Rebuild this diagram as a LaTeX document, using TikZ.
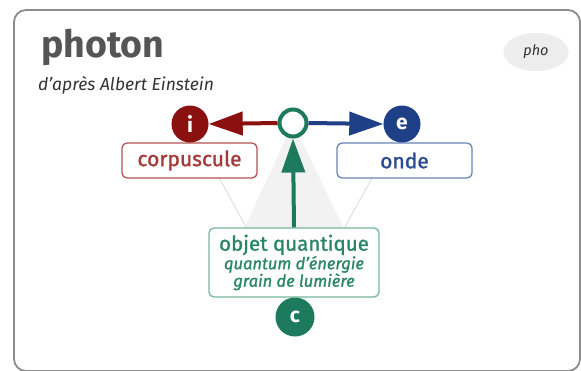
\documentclass[tikz,border=0pt]{standalone}
\usepackage{fontspec}
\setmainfont{Fira Sans}
\newfontfamily\medfont[FakeBold=1.2]{Fira Sans}
\usetikzlibrary{arrows.meta,shapes.geometric}
\definecolor{redD}{HTML}{8B1010}
\definecolor{redL}{HTML}{B65252}
\definecolor{redT}{HTML}{A33A3A}
\definecolor{bluD}{HTML}{1F3F86}
\definecolor{bluL}{HTML}{6A84BC}
\definecolor{bluT}{HTML}{2B4A8F}
\definecolor{grnD}{HTML}{1E7A5C}
\definecolor{grnL}{HTML}{74B89A}
\definecolor{grnT}{HTML}{2A8764}
\definecolor{titleG}{HTML}{555555}
\tikzset{
  pole/.style={circle, fill=#1, inner sep=0pt, minimum size=37pt, text=white, font=\fontsize{21}{21}\selectfont\bfseries},
  labbox/.style={draw=#1, line width=1.3pt, rounded corners=5pt, fill=white, minimum width=135pt, minimum height=35pt, inner sep=0pt},
  bigarrow/.style={draw=#1, line width=4pt, -{Triangle[length=34pt,width=23pt]}},
  bgline/.style={draw=black!12, line width=1pt},
}
\begin{document}
\begin{tikzpicture}[x=1pt,y=-1pt]
\useasboundingbox (0,0) rectangle (581,370);
% card
\draw[black!45, line width=1.8pt, rounded corners=12pt, fill=white] (14,10) rectangle (580,371);
% title
\node[anchor=base west, inner sep=0pt, text=titleG, font=\fontsize{37.5}{37.5}\selectfont\bfseries] (title) at (41,57) {photon};
\node[anchor=base west, inner sep=0pt, text=black!80, font=\fontsize{17.5}{17.5}\selectfont\itshape] (sub) at (38,90) {d’après Albert Einstein};
\node[ellipse, fill=black!7, minimum width=65pt, minimum height=38pt, inner sep=0pt, font=\fontsize{14.5}{14.5}\selectfont\itshape, text=black!80] (tag) at (536,52) {pho};
% poles
\coordinate (ctr) at (293,123);
\coordinate (cpos) at (295,317);
\coordinate (ipos) at (190,124);
\coordinate (epos) at (402,124);
% background
\fill[black!5] (ctr) -- (244,229) -- (344,229) -- cycle;
\draw[bgline] (ipos) -- (cpos);
\draw[bgline] (epos) -- (cpos);
% boxes
\node[labbox=redL, text=redT, font=\medfont\fontsize{21}{21}\selectfont] (corp) at (189.5,160.5) {corpuscule};
\node[labbox=bluL, text=bluT, font=\medfont\fontsize{21}{21}\selectfont] (onde) at (404.5,160.5) {onde};
\node[labbox=grnL, minimum width=170pt, minimum height=69pt, align=center, text=grnT, font=\medfont\fontsize{20.5}{20.5}\selectfont] (obj) at (294,262.5)
  {objet quantique\\[-2pt]{\fontsize{16.5}{18}\selectfont\itshape quantum d’énergie}\\[-3pt]{\fontsize{16.5}{18}\selectfont\itshape grain de lumière}};
% circles
\node[pole=redD] (i) at (ipos) {i};
\node[pole=bluD] (e) at (epos) {e};
\node[pole=grnD, minimum size=39pt] (c) at (cpos) {c};
\node[circle, draw=grnD, fill=white, line width=4pt, minimum size=27pt, inner sep=0pt] (o) at (ctr) {};
% arrows
\draw[bigarrow=redD] (o.west) -- (i.east);
\draw[bigarrow=bluD] (o.east) -- (e.west);
\draw[bigarrow=grnD] (obj.north) -- (o.south);
\end{tikzpicture}
\end{document}
